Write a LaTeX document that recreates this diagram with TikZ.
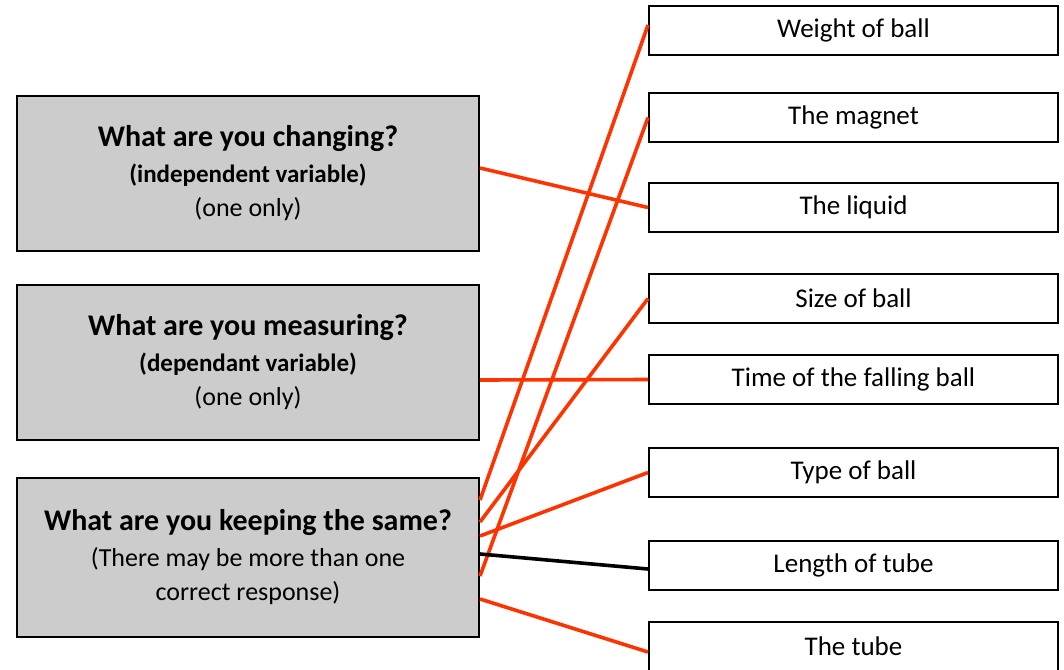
\documentclass[tikz,border=0pt]{standalone}
\usepackage{fontspec}
\setmainfont{Carlito}
\usepackage{tikz}
\definecolor{linkred}{HTML}{FF3300}
\definecolor{boxgrey}{HTML}{CCCCCC}
\newcommand{\QuestionFont}{\bfseries\fontsize{15}{17}\selectfont}
\newcommand{\HintFont}{\bfseries\fontsize{12.5}{17}\selectfont}
\tikzset{
  question/.style={draw=black, line width=1pt, fill=boxgrey, minimum width=231pt,
    minimum height=77.5pt, align=center, inner sep=0pt, font=\fontsize{13}{17}\selectfont},
  answer/.style={draw=black, line width=1pt, minimum width=204.5pt,
    minimum height=24.5pt, inner sep=0pt, font=\fontsize{13.5}{16}\selectfont},
  link/.style={draw=linkred, line width=1.8pt},
  wronglink/.style={draw=black, line width=1.8pt}
}

\begin{document}
\begin{tikzpicture}[x=0.5pt,y=-0.5pt]
                \useasboundingbox (0,0) rectangle (1064,669);
                \node[question] (change) at (248,173.5) {{\QuestionFont What are you changing?}\\[1pt]{\HintFont (independent variable)}\\(one only)};
                \node[question] (measure) at (248,362.5) {{\QuestionFont What are you measuring?}\\[1pt]{\HintFont (dependant variable)}\\(one only)};
                \node[question,minimum height=79.5pt] (same) at (248,557.5) {{\QuestionFont What are you keeping the same?}\\[1pt](There may be more than one\\correct response)};
                \node[answer] (weight) at (853.5,30.5) {Weight of ball};
                \node[answer] (magnet) at (853.5,117.5) {The magnet};
                \node[answer] (liquid) at (853.5,207.5) {The liquid};
                \node[answer] (size) at (853.5,298.5) {Size of ball};
                \node[answer] (time) at (853.5,379.5) {Time of the falling ball};
                \node[answer] (type) at (853.5,472.5) {Type of ball};
                \node[answer] (length) at (853.5,565) {Length of tube};
                \node[answer] (tube) at (853.5,646.5) {The tube};
                \draw[link] (change.east |- 0,168) -- (liquid.west);
                \draw[link] (measure.east |- 0,380) -- (time.west);
                \draw[link] (same.east |- 0,500) -- (weight.west |- 0,25);
                \draw[link] (same.east |- 0,522) -- (size.west);
                \draw[link] (same.east |- 0,536) -- (type.west);
                \draw[link] (same.east |- 0,576) -- (magnet.west);
                \draw[wronglink] (same.east |- 0,554) -- (length.west |- 0,569);
                \draw[link] (same.east |- 0,599) -- (tube.west |- 0,652);
        \end{tikzpicture}
\end{document}
